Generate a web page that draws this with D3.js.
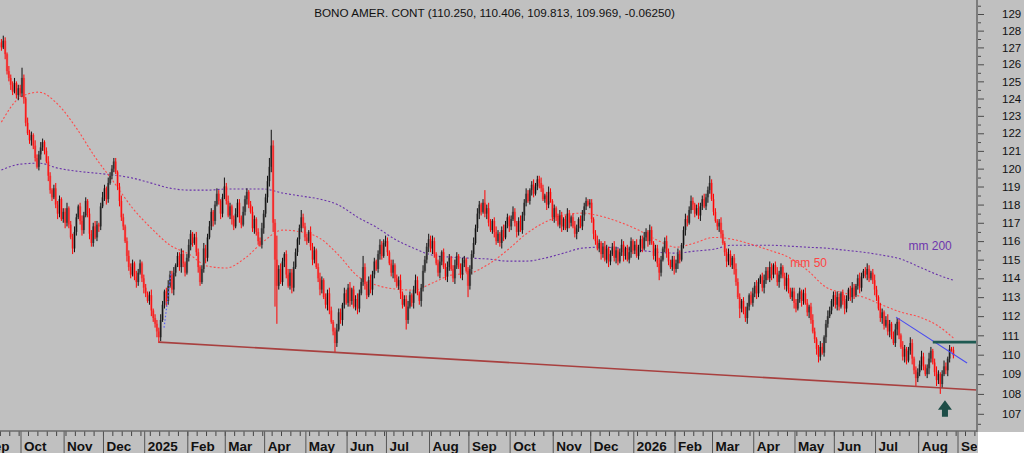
<!DOCTYPE html>
<html>
<head>
<meta charset="utf-8">
<script src="https://cdn.jsdelivr.net/npm/d3@7"></script>
<style>
  html, body { margin: 0; padding: 0; background: #c0c0c0; overflow: hidden; }
  text { font-family: "Liberation Sans", Arial, sans-serif; }
</style>
</head>
<body>
<svg id="chart" width="1024" height="453"></svg>
<script>
// title line of the chart
const title = "BONO AMER. CONT (110.250, 110.406, 109.813, 109.969, -0.06250)";

// daily bars start on this date, first bar opens here
const firstBarDate = new Date(2024, 8, 16);
const firstOpen = 127.3;

// daily closes, Sep 16 2024 .. Dec 2024
const close2024 = [
  127.0, 127.4, 126.6, 125.6, 125.2, 124.8, 124.4, 124.9, 124.2, 124.6, 124.3,
  125.2, 124.0, 122.6, 122.0, 121.6, 121.9, 121.3, 120.6, 120.1, 120.8, 121.2, 121.5, 121.0, 120.4, 119.6, 118.8, 118.4, 118.9, 118.0, 117.5, 118.3, 117.2, 117.6,
  117.0, 117.8, 116.9, 116.2, 115.6, 116.5, 117.3, 117.9, 117.1, 116.6, 117.4, 118.2, 117.5, 116.4, 115.9, 116.8, 116.2, 116.9, 116.8, 117.9, 118.4,
  118.9, 118.3, 119.2, 119.6, 120.0, 120.4, 119.8, 119.0, 118.2, 117.3, 116.8, 116.0, 115.2, 114.6, 114.2, 114.8, 114.1, 113.8, 114.3, 114.8, 114.0, 113.5
];
// daily closes, 2025
const close2025 = [
  113.2, 112.8, 113.1, 112.3, 111.9, 111.6, 111.2, 110.9, 111.8, 112.6, 113.3, 112.8, 113.6, 114.2, 113.4, 114.3, 114.7, 115.2, 114.6, 115.3, 114.8, 114.3, 115.1,
  115.8, 116.4, 115.9, 116.2, 115.4, 114.6, 113.8, 114.5, 115.6, 115.1, 116.2, 116.8, 117.6, 117.1, 118.0, 118.6, 118.2, 117.5, 118.4, 119.0,
  118.2, 117.4, 117.9, 117.2, 116.8, 117.5, 118.1, 117.3, 116.9, 117.6, 118.3, 118.7, 118.0, 117.6, 116.7, 117.2, 116.5, 116.0, 115.8, 116.7, 117.5,
  118.4, 119.3, 120.1, 121.3, 117.0, 115.0, 113.6, 114.5, 113.8, 114.9, 115.3, 114.2, 113.6, 114.3, 113.5, 114.6, 115.4, 116.1, 116.7, 117.3, 116.8, 116.2,
  116.0, 116.5, 115.7, 115.0, 115.5, 114.6, 114.0, 113.4, 113.9, 113.0, 112.6, 113.2, 112.3, 111.7, 111.2, 110.6, 111.3, 112.2, 111.8, 112.6, 113.2, 112.7,
  113.5, 112.8, 113.4, 112.5, 112.9, 112.4, 113.2, 113.8, 114.6, 113.7, 113.1, 113.9, 113.4, 114.2, 114.9, 114.5, 115.3, 115.8, 115.2, 115.9, 116.0,
  115.4, 114.8, 114.3, 114.7, 114.0, 113.6, 113.9, 113.2, 112.6, 112.9, 111.8, 112.5, 113.1, 112.7, 113.4, 113.9, 113.2, 112.8, 113.5, 114.4, 115.0, 115.7, 116.1,
  115.6, 116.0, 115.3, 114.8, 114.3, 114.9, 115.4, 114.6, 114.1, 114.6, 115.1, 114.5, 114.0, 114.7, 115.2, 114.6, 114.2, 114.8, 115.0, 114.4, 113.6,
  114.5, 115.3, 115.9, 116.7, 117.5, 118.0, 117.6, 118.1, 117.5, 117.8, 117.0, 116.6, 117.1, 116.5, 116.0, 116.4, 115.9, 116.6, 116.2, 116.9, 117.3, 116.8,
  117.2, 117.6, 117.0, 116.5, 117.1, 116.6, 117.4, 118.1, 118.6, 118.2, 118.8, 119.1, 118.6, 119.0, 119.4, 119.2, 118.9, 118.3, 118.5, 118.0, 118.7, 118.2, 117.3,
  117.8, 117.3, 116.9, 117.4, 116.8, 117.2, 116.7, 117.5, 117.0, 117.3, 116.8, 116.4, 116.7, 117.2, 116.8, 117.4, 117.9, 118.2, 118.0, 118.1,
  117.2, 116.4, 116.0, 115.6, 115.9, 115.3, 115.7, 115.0, 115.6, 114.9, 115.3, 115.7, 115.1, 115.5, 114.9, 115.4, 115.8, 115.2, 115.6, 115.0, 115.4, 116.0, 115.5
];
// daily closes, 2026
const close2026 = [
  115.8, 115.2, 115.7, 116.1, 115.6, 116.2, 116.5, 116.0, 116.6, 115.9, 115.2, 115.6, 114.8, 114.3, 115.0, 115.6, 116.0, 115.4, 114.9, 114.6, 115.0, 114.5,
  114.8, 115.3, 115.0, 115.8, 116.6, 117.2, 117.0, 117.7, 118.2, 118.0, 117.5, 117.8, 117.4, 117.9, 118.3, 117.9, 118.4, 118.8, 119.2, 118.3,
  117.6, 117.1, 116.8, 117.0, 116.4, 115.9, 115.4, 114.9, 115.3, 114.7, 115.1, 114.5, 113.8, 113.0, 112.4, 112.8, 112.2, 111.9, 112.5, 113.1, 112.7, 113.2,
  113.6, 113.2, 113.8, 114.1, 113.5, 113.9, 114.4, 114.0, 114.6, 114.2, 114.7, 114.3, 113.8, 114.2, 114.6, 114.1, 113.6, 114.0, 113.4, 113.0, 113.3, 112.7,
  112.4, 112.9, 113.3, 112.8, 113.2, 112.7, 112.2, 112.5, 111.8, 111.2, 110.8, 110.3, 109.9, 110.4, 110.1, 110.9, 111.6, 112.0, 112.3, 112.8, 113.1,
  112.6, 113.0, 112.5, 113.2, 112.8, 112.4, 112.9, 113.4, 113.0, 113.5, 113.1, 113.6, 114.0, 113.5, 114.1, 114.4, 114.2, 114.5, 114.0, 114.3, 113.9, 113.4,
  113.0, 112.4, 111.9, 112.2, 111.5, 111.8, 111.2, 111.6, 111.0, 110.6, 111.3, 111.7, 111.0, 110.4, 109.9, 110.3, 109.7, 110.2, 110.6, 109.8, 109.2, 108.8, 109.1,
  109.5, 109.9, 109.4, 109.0, 109.3, 109.8, 110.2, 109.6, 109.1, 108.7, 109.0, 108.5, 109.0, 109.4, 109.2, 109.8, 110.3, 110.25, 109.97
];

// upper wick above the body, tenths of a point
const up2024 = [
  2,3,2,1,3,2,2,3,1,2,2,
  6,2,1,3,2,2,1,3,2,2,3,2,1,2,3,2,1,2,3,2,2,1,2,
  2,3,1,2,2,3,2,1,2,3,2,2,1,3,2,2,3,2,1,2,3,
  2,1,3,2,2,2,2,1,2,3,2,1,2,3,2,2,1,3,2,2,1,2
];
const up2025 = [
  2,1,2,3,1,2,2,2,3,2,1,2,3,2,2,3,1,2,2,3,2,1,2,
  3,2,1,2,3,2,1,2,3,2,2,3,2,1,2,3,2,1,2,5,
  2,3,2,1,2,3,2,2,1,3,2,2,1,2,3,2,1,2,2,3,2,
  2,3,5,9,3,2,13,2,3,2,1,2,3,2,2,3,2,1,2,4,2,2,
  2,1,3,2,2,1,2,3,2,1,2,2,3,2,1,2,3,2,2,1,3,2,
  2,3,1,2,2,3,2,2,6,2,1,2,3,2,2,1,2,3,2,2,3,
  2,1,2,3,1,2,2,3,1,2,2,3,2,1,2,3,2,1,2,3,2,2,3,
  2,3,2,1,2,3,1,2,2,3,2,1,2,3,2,1,2,3,2,1,2,
  2,2,3,2,3,2,1,2,7,2,3,2,1,2,3,2,1,2,3,2,2,1,
  2,3,2,1,2,3,2,2,3,2,1,2,3,2,2,2,3,2,1,2,3,2,1,
  2,1,2,3,2,1,2,3,2,1,2,3,2,1,2,3,2,2,1,2,
  2,1,2,3,2,1,2,3,2,1,2,2,3,2,1,2,3,2,1,2,3,2,1
];
const up2026 = [
  2,3,1,2,2,3,2,1,3,2,1,2,2,3,2,1,2,3,2,1,2,2,
  2,3,2,1,2,3,2,2,3,2,1,2,3,2,2,3,2,2,4,2,
  3,2,1,2,3,2,1,2,3,2,1,2,3,2,2,1,2,3,2,1,2,3,
  2,3,2,1,2,3,2,2,3,2,1,2,3,2,2,1,2,3,2,1,2,2,
  2,3,2,1,2,3,2,1,2,3,2,1,2,3,2,1,2,3,2,1,2,
  2,3,2,1,2,3,2,1,2,3,2,1,2,3,2,1,2,3,2,1,2,3,
  2,1,3,2,1,2,3,2,1,2,3,2,2,1,3,2,1,2,3,2,1,2,2,
  2,3,2,1,2,3,2,1,2,3,2,1,2,3,2,1,2,1,1.6
];
// lower wick below the body, tenths of a point
const dn2024 = [
  2,1,3,2,2,3,2,1,2,3,2,
  2,3,2,1,2,3,2,2,1,2,3,2,2,1,3,2,2,1,2,3,2,1,2,
  3,2,2,1,3,2,2,1,2,3,2,1,2,3,2,2,1,2,3,2,1,
  2,3,2,1,2,2,1,2,3,2,2,1,3,2,2,1,2,3,2,1,2,3
];
const dn2025 = [
  2,1,2,3,2,2,3,3,2,1,2,3,2,1,2,3,2,1,2,3,2,2,1,
  2,3,2,1,2,3,2,1,2,3,2,1,2,3,2,1,2,3,2,1,
  2,1,2,3,2,1,2,3,2,1,2,3,2,1,2,3,2,2,1,2,3,
  2,3,3,3,5,25,20,2,1,2,3,2,1,2,3,2,1,2,3,2,1,2,
  2,1,2,3,2,1,2,3,2,1,2,3,2,1,2,5,2,1,2,3,2,1,
  2,3,2,1,2,3,2,1,2,3,2,1,2,3,2,1,2,3,2,1,2,
  2,1,2,3,2,1,2,3,2,1,5,2,1,2,3,2,1,2,3,2,1,2,3,
  2,3,2,1,2,3,2,1,2,3,2,1,2,3,2,1,2,3,2,1,6,
  2,3,2,1,2,3,2,1,2,3,2,1,2,3,2,1,2,3,2,1,2,3,
  2,1,2,3,2,1,2,3,2,1,2,3,2,1,2,3,2,1,2,3,2,1,2,
  3,2,1,2,3,2,1,2,3,2,1,2,3,2,1,2,3,2,1,2,
  2,3,2,1,2,3,2,1,2,3,2,1,2,3,2,1,2,3,2,1,2,3,2
];
const dn2026 = [
  2,1,2,3,2,1,2,3,2,1,2,3,2,4,2,1,2,3,2,1,2,3,
  2,3,2,1,2,3,2,1,2,3,2,1,2,3,2,1,2,3,2,1,
  2,1,2,3,2,1,2,3,2,1,2,3,2,1,5,2,1,2,3,2,1,2,
  2,3,2,1,2,3,2,1,2,3,2,1,2,3,2,1,2,3,2,1,2,3,
  2,1,2,3,2,1,2,3,2,1,2,3,3,2,1,2,3,2,1,2,3,
  2,3,2,1,2,3,2,1,2,3,2,1,2,3,2,1,2,3,2,1,2,3,
  2,1,2,3,2,1,2,3,2,1,2,3,2,1,2,3,2,1,2,3,2,4,2,
  2,3,2,1,2,3,2,1,2,3,2,5,2,1,2,3,2,1,1.6
];

// moving averages at every 10th bar (plus the last one)
const maBars = [0,10,20,30,40,50,60,70,80,90,100,110,120,130,140,150,160,170,180,190,200,210,220,230,240,250,
  260,270,280,290,300,310,320,330,340,350,360,370,380,390,400,410,420,430,440,450,460,470,480,490,500,508];
const mm50 = [122.64,124.06,124.37,123.68,122.3,120.65,119.24,117.8,116.7,115.78,115.3,114.65,114.55,115.08,115.99,116.6,
  116.5,116.15,115.24,114.12,113.64,113.43,113.37,113.75,114.17,114.28,114.76,115.51,116.39,117.03,117.42,117.53,117.36,
  117.03,116.6,116.05,115.67,115.9,116.2,116.1,115.83,115.5,115.13,114.44,113.53,113.21,113.0,112.58,112.21,111.95,111.48,110.86];
const mm200 = [119.92,120.25,120.31,120.03,119.86,119.75,119.64,119.47,119.19,118.91,118.8,118.8,118.86,118.86,118.86,118.64,
  118.47,118.3,117.97,117.31,116.76,116.1,115.62,115.24,115.13,115.08,115.03,114.92,114.92,115.08,115.35,115.62,115.67,
  115.62,115.51,115.4,115.35,115.46,115.56,115.78,115.78,115.78,115.73,115.67,115.62,115.51,115.4,115.24,115.03,114.6,114.17,113.9];

// drawn studies: [bar, price] end points
const supportLine = [[84, 110.65], [520.6, 108.2]];
const downTrend = [[477.4, 111.95], [515.3, 109.57]];
const resistance = [[497, 110.65], [520.6, 110.65]];
const smallDots = [[86.8, 111.4], [90.5, 114.3]];
const arrowMark = { bar: 503.5, top: 107.68, bottom: 106.85 };
const maLabels = [
  { text: "mm 50", bar: 421, price: 114.6, color: "#ff4444" },
  { text: "mm 200", bar: 484, price: 115.5, color: "#6e36ad" }
];
const yTicks = d3.range(107, 130);

// ---- layout
const W = 1024, H = 453;
const plotRight = 977, axisY = 431;

const closes = close2024.concat(close2025, close2026);
const wickUp = up2024.concat(up2025, up2026);
const wickDn = dn2024.concat(dn2025, dn2026);

// trading days (weekdays) so the month ticks line up with the bars
const days = d3.timeDay.range(new Date(2024, 8, 2), new Date(2026, 9, 1))
  .filter(d => d.getDay() !== 0 && d.getDay() !== 6);
const offset = days.findIndex(d => +d === +firstBarDate);

const x = d3.scaleLinear().domain([0, 500]).range([1.4, 938.4]);
const y = d3.scaleLog().domain([107, 129]).range([413.8, 14]);

const bars = closes.map((c, i) => {
  const o = i === 0 ? firstOpen : closes[i - 1];
  return { i, o, c, h: Math.max(o, c) + wickUp[i] / 10, l: Math.min(o, c) - wickDn[i] / 10 };
});

const svg = d3.select("#chart");
svg.append("rect").attr("width", W).attr("height", H).attr("fill", "#c0c0c0");
svg.append("rect").attr("x", plotRight + 1).attr("y", axisY + 1)
  .attr("width", W - plotRight).attr("height", H - axisY).attr("fill", "#ffffff");

const defs = svg.append("defs");
defs.append("clipPath").attr("id", "plotClip")
  .append("rect").attr("x", 0).attr("y", 0).attr("width", plotRight).attr("height", axisY);
defs.append("clipPath").attr("id", "xClip")
  .append("rect").attr("x", 0).attr("y", axisY).attr("width", plotRight).attr("height", H - axisY);

const plot = svg.append("g").attr("clip-path", "url(#plotClip)");

// moving averages
const maLine = d3.line().x(d => x(d[0])).y(d => y(d[1])).curve(d3.curveMonotoneX);
plot.append("path").datum(maBars.map((b, k) => [b, mm200[k]]))
  .attr("d", maLine).attr("fill", "none").attr("stroke", "#6a33aa")
  .attr("stroke-width", 1.1).attr("stroke-dasharray", "2,2");
plot.append("path").datum(maBars.map((b, k) => [b, mm50[k]]))
  .attr("d", maLine).attr("fill", "none").attr("stroke", "#ff4a4a")
  .attr("stroke-width", 1.1).attr("stroke-dasharray", "2,2");

// candles: light body, dark high-low line on top
const up = d => d.c >= d.o;
plot.append("g").selectAll("rect").data(bars).join("rect")
  .attr("x", d => x(d.i) - 1.2).attr("width", 2.4)
  .attr("y", d => y(Math.max(d.o, d.c)))
  .attr("height", d => Math.max(1, Math.abs(y(d.o) - y(d.c))))
  .attr("fill", d => up(d) ? "#767676" : "#e27474");
plot.append("g").selectAll("rect").data(bars).join("rect")
  .attr("x", d => x(d.i) - 0.5).attr("width", 1)
  .attr("y", d => y(d.h)).attr("height", d => y(d.l) - y(d.h))
  .attr("fill", d => up(d) ? "#111111" : "#ff0000");

// studies
const seg = d3.line().x(d => x(d[0])).y(d => y(d[1]));
plot.append("path").datum(supportLine).attr("d", seg)
  .attr("stroke", "#a8403f").attr("stroke-width", 1.6).attr("fill", "none");
plot.append("path").datum(downTrend).attr("d", seg)
  .attr("stroke", "#4a4cf0").attr("stroke-width", 1.1).attr("fill", "none");
plot.append("path").datum(smallDots).attr("d", seg)
  .attr("stroke", "#5a5cf5").attr("stroke-width", 1.2).attr("stroke-dasharray", "1.5,2").attr("fill", "none");
plot.append("path").datum(resistance).attr("d", seg)
  .attr("stroke", "#1f5a52").attr("stroke-width", 2.6).attr("fill", "none");

// arrow under the last low
{
  const cx = x(arrowMark.bar), yt = y(arrowMark.top), yb = y(arrowMark.bottom);
  const headH = (yb - yt) * 0.58, hw = 7, sw = 3;
  const pts = [[cx, yt], [cx + hw, yt + headH], [cx + sw, yt + headH], [cx + sw, yb],
               [cx - sw, yb], [cx - sw, yt + headH], [cx - hw, yt + headH]];
  plot.append("path").attr("d", "M" + pts.join("L") + "Z").attr("fill", "#1d4d47");
}

// MA labels
plot.selectAll("text.ma").data(maLabels).join("text")
  .attr("x", d => x(d.bar)).attr("y", d => y(d.price))
  .attr("font-size", 12).attr("fill", d => d.color).text(d => d.text);

// ---- y axis on the right
const yAxisG = svg.append("g").attr("transform", `translate(${plotRight},0)`);
yAxisG.call(d3.axisRight(y).tickValues(yTicks).tickFormat(d3.format("d")).tickSize(7).tickPadding(18))
  .call(g => g.select(".domain").remove())
  .call(g => g.selectAll("line").attr("stroke", "#4a4a4a"))
  .call(g => g.selectAll("text").attr("font-size", 11.5).attr("fill", "#111")
    .attr("font-family", "'Liberation Sans', Arial, sans-serif"));
svg.append("g").attr("transform", `translate(${plotRight},0)`)
  .call(d3.axisRight(y).tickValues(d3.range(106.5, 130, 1)).tickSize(4).tickFormat(""))
  .call(g => g.select(".domain").remove())
  .call(g => g.selectAll("line").attr("stroke", "#4a4a4a"));
svg.append("line").attr("x1", plotRight).attr("x2", plotRight).attr("y1", 0).attr("y2", axisY + 1)
  .attr("stroke", "#7c7c7c").attr("stroke-width", 2);

// ---- x axis
const xg = svg.append("g").attr("clip-path", "url(#xClip)");
const monthStarts = days.map((d, k) => ({ d, k }))
  .filter(({ d, k }) => k === 0 || d.getMonth() !== days[k - 1].getMonth());
const mondays = days.map((d, k) => ({ d, k })).filter(({ d }) => d.getDay() === 1);
const xPos = k => x(k - offset) - 1;

xg.selectAll("line.wk").data(mondays).join("line")
  .attr("x1", d => xPos(d.k)).attr("x2", d => xPos(d.k))
  .attr("y1", axisY).attr("y2", axisY + 5).attr("stroke", "#444");
xg.selectAll("line.mo").data(monthStarts).join("line")
  .attr("x1", d => xPos(d.k)).attr("x2", d => xPos(d.k))
  .attr("y1", axisY).attr("y2", H).attr("stroke", "#555");
xg.selectAll("text").data(monthStarts).join("text")
  .attr("x", d => xPos(d.k) + 3).attr("y", 451)
  .attr("font-size", 13.5).attr("font-weight", "bold").attr("fill", "#111")
  .text(d => d.d.getMonth() === 0 ? d3.timeFormat("%Y")(d.d) : d3.timeFormat("%b")(d.d));
svg.append("line").attr("x1", 0).attr("x2", plotRight).attr("y1", axisY).attr("y2", axisY)
  .attr("stroke", "#6a6a6a").attr("stroke-width", 1.6);

// title
svg.append("text").attr("x", 494.5).attr("y", 17).attr("text-anchor", "middle")
  .attr("font-size", 11.7).attr("fill", "#111").text(title);
</script>
</body>
</html>
